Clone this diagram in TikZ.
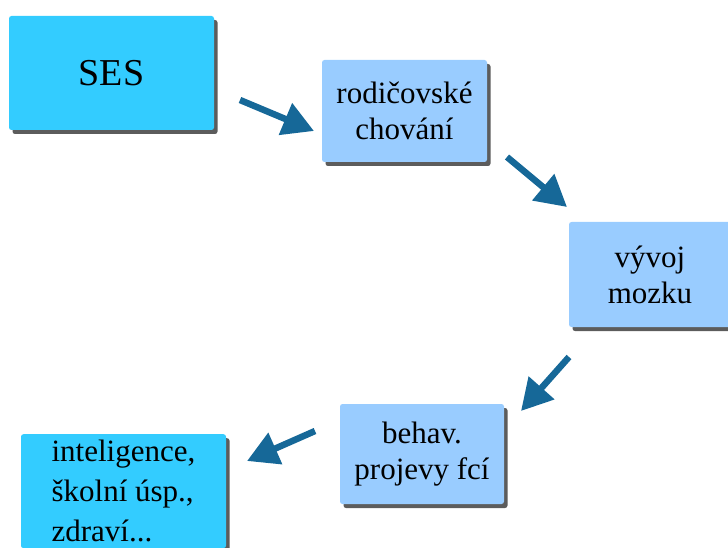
\documentclass[tikz,border=0pt]{standalone}
\usepackage{fontspec}
\setmainfont{Liberation Serif}
\usetikzlibrary{shadows,arrows.meta}
\definecolor{strong}{RGB}{51,204,255}
\definecolor{soft}{RGB}{153,204,255}
\definecolor{arrowblue}{RGB}{22,104,152}
\tikzset{
  card/.style={rounded corners=2.5pt, inner sep=0pt, align=center,
    drop shadow={shadow xshift=3.5pt, shadow yshift=-4pt, fill=black!75, opacity=0.85}},
  midtext/.style={font=\fontsize{31}{36}\selectfont},
  flow/.style={arrowblue, line width=6.5pt,
    -{Triangle[length=31pt,width=33pt]}}
}
\begin{document}
\begin{tikzpicture}[x=1pt,y=-1pt]
  \useasboundingbox (0,0) rectangle (728,548);

  % boxes
  \node[card, fill=strong, minimum width=205pt, minimum height=114pt,
        font=\fontsize{38}{42}\selectfont] (ses) at (111.5,73) {SES};
  \node[card, fill=soft, minimum width=165pt, minimum height=102pt, midtext]
        (parent) at (404.5,111) {rodičovské\\chování};
  \node[card, fill=soft, minimum width=162pt, minimum height=105pt, midtext]
        (brain) at (650,274.5) {vývoj\\mozku};
  \node[card, fill=soft, minimum width=164pt, minimum height=100pt, midtext]
        (behav) at (422,454) {behav.\\projevy fcí};
  \node[card, fill=strong, anchor=north, minimum width=205pt, inner ysep=6pt,
        align=left, font=\fontsize{31}{40}\selectfont]
        (outcome) at (123.5,434) {inteligence,\\školní úsp.,\\zdraví...};

  % arrow end points
  \coordinate (a1s) at (240,100);  \coordinate (a1e) at (314,131);
  \coordinate (a2s) at (507,157);  \coordinate (a2e) at (567,207);
  \coordinate (a3s) at (569,357);  \coordinate (a3e) at (521,411);
  \coordinate (a4s) at (315,431);  \coordinate (a4e) at (247,461);

  \draw[flow] (a1s) -- (a1e);
  \draw[flow] (a2s) -- (a2e);
  \draw[flow] (a3s) -- (a3e);
  \draw[flow] (a4s) -- (a4e);
\end{tikzpicture}
\end{document}
